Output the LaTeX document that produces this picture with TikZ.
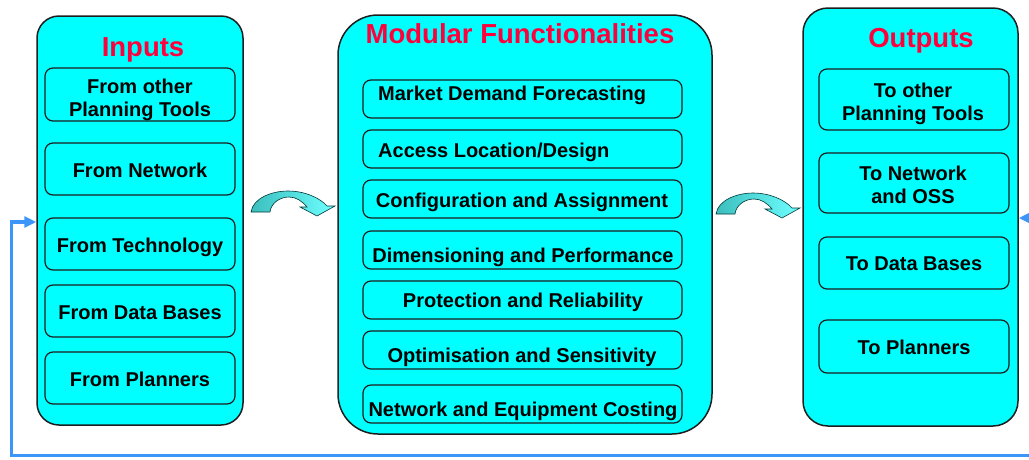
\documentclass[tikz,border=0pt]{standalone}
\usepackage{fontspec}
\setmainfont{Liberation Sans}
\usetikzlibrary{arrows.meta}
\definecolor{cy}{RGB}{0,255,255}
\definecolor{ttl}{RGB}{255,0,60}
\definecolor{fbc}{RGB}{60,150,250}
\definecolor{arrL}{RGB}{60,190,190}
\definecolor{arrR}{RGB}{110,255,255}
\definecolor{edge}{RGB}{30,30,30}
\begin{document}
\begin{tikzpicture}[x=1pt,y=-1pt,
  panel/.style={draw=edge, line width=1.5pt, fill=cy, inner sep=0pt},
  subbox/.style={draw=edge, line width=1.2pt, fill=cy, rounded corners=8pt, inner sep=0pt},
  lbl/.style={font=\fontsize{20}{23}\selectfont\bfseries, align=center, inner sep=0pt},
  ttlstyle/.style={font=\fontsize{27.5}{30}\selectfont\bfseries, text=ttl, inner sep=0pt, anchor=base},
  fb/.style={draw=fbc, line width=3.5pt},
  fbtip/.tip={Triangle[length=12pt,width=11pt]},
  bendarrow/.style={draw=black!55!teal, line width=0.6pt, left color=arrL, right color=arrR}]
\useasboundingbox (0,0) rectangle (1029,459);
\clip (0,0) rectangle (1029,459);

% main panels
\node[panel, rounded corners=22pt, minimum width=206pt, minimum height=409pt] (inputs) at (140,220.5) {};
\node[panel, rounded corners=40pt, minimum width=374pt, minimum height=419pt] (modules) at (525,224.5) {};
\node[panel, rounded corners=25pt, minimum width=215pt, minimum height=418pt] (outputs) at (910.5,217) {};

% titles
\node[ttlstyle] (t-in) at (143,56) {Inputs};
\node[ttlstyle] (t-mod) at (520,43) {Modular Functionalities};
\node[ttlstyle] (t-out) at (921,47) {Outputs};

% input boxes
\node[subbox, minimum width=190pt, minimum height=53pt] (i1) at (140,94.5) {};
\node[subbox, minimum width=190pt, minimum height=52pt] (i2) at (140,169) {};
\node[subbox, minimum width=190pt, minimum height=52pt] (i3) at (140,244) {};
\node[subbox, minimum width=190pt, minimum height=52pt] (i4) at (140,311) {};
\node[subbox, minimum width=190pt, minimum height=52pt] (i5) at (140,378) {};
\node[lbl] (ti1) at (140,99.7) {From other\\Planning Tools};
\node[lbl, anchor=base] (ti2) at (140,177.5) {From Network};
\node[lbl, anchor=base] (ti3) at (140,252.2) {From Technology};
\node[lbl, anchor=base] (ti4) at (140,319.2) {From Data Bases};
\node[lbl, anchor=base] (ti5) at (140,386.2) {From Planners};

% module boxes
\node[subbox, minimum width=319pt, minimum height=38pt] (m1) at (522.5,99) {};
\node[subbox, minimum width=319pt, minimum height=38pt] (m2) at (522.5,149) {};
\node[subbox, minimum width=319pt, minimum height=38pt] (m3) at (522.5,199) {};
\node[subbox, minimum width=319pt, minimum height=38pt] (m4) at (522.5,250) {};
\node[subbox, minimum width=319pt, minimum height=38pt] (m5) at (522.5,300) {};
\node[subbox, minimum width=319pt, minimum height=38pt] (m6) at (522.5,350) {};
\node[subbox, minimum width=319pt, minimum height=38pt] (m7) at (522.5,404) {};
\node[lbl, anchor=base west] (tm1) at (378,100.2) {Market Demand Forecasting};
\node[lbl, anchor=base west] (tm2) at (378,157.2) {Access Location/Design};
\node[lbl, anchor=base] (tm3) at (522,207.2) {Configuration and Assignment};
\node[lbl, anchor=base] (tm4) at (523,262.2) {Dimensioning and Performance};
\node[lbl, anchor=base] (tm5) at (523,307.2) {Protection and Reliability};
\node[lbl, anchor=base] (tm6) at (522,362.2) {Optimisation and Sensitivity};
\node[lbl, anchor=base] (tm7) at (523,416.2) {Network and Equipment Costing};

% output boxes
\node[subbox, minimum width=190pt, minimum height=61pt] (o1) at (914,99.5) {};
\node[subbox, minimum width=190pt, minimum height=60pt] (o2) at (914,183) {};
\node[subbox, minimum width=190pt, minimum height=52pt] (o3) at (914,263) {};
\node[subbox, minimum width=190pt, minimum height=53pt] (o4) at (914,346.5) {};
\node[lbl] (to1) at (913,103.7) {To other\\Planning Tools};
\node[lbl] (to2) at (913,185.2) {To Network\\and OSS};
\node[lbl, anchor=base] (to3) at (914,270.7) {To Data Bases};
\node[lbl, anchor=base] (to4) at (914,354.7) {To Planners};

% curved block arrows
\path[bendarrow] (251,212) .. controls (253,198) and (272,191) .. (288,191)
  .. controls (305,191) and (320,198) .. (327,206) -- (335,206) -- (317,216) -- (300,207) -- (307,207)
  .. controls (302,201) and (296,197) .. (289,197) .. controls (280,197) and (271,203) .. (270,212) -- cycle;
\begin{scope}[shift={(465,2)}]
\path[bendarrow] (251,212) .. controls (253,198) and (272,191) .. (288,191)
  .. controls (305,191) and (320,198) .. (327,206) -- (335,206) -- (317,216) -- (300,207) -- (307,207)
  .. controls (302,201) and (296,197) .. (289,197) .. controls (280,197) and (271,203) .. (270,212) -- cycle;
\end{scope}

% feedback loop
\coordinate (fbA) at (1045,218);
\coordinate (fbB) at (1045,455.5);
\coordinate (fbC) at (11.5,455.5);
\coordinate (fbD) at (11.5,222);
\draw[fb, {fbtip}-{fbtip}] (outputs.east |- fbA) -- (fbA) -- (fbB) -- (fbC) -- (fbD) -- (inputs.west |- fbD);
\end{tikzpicture}
\end{document}
